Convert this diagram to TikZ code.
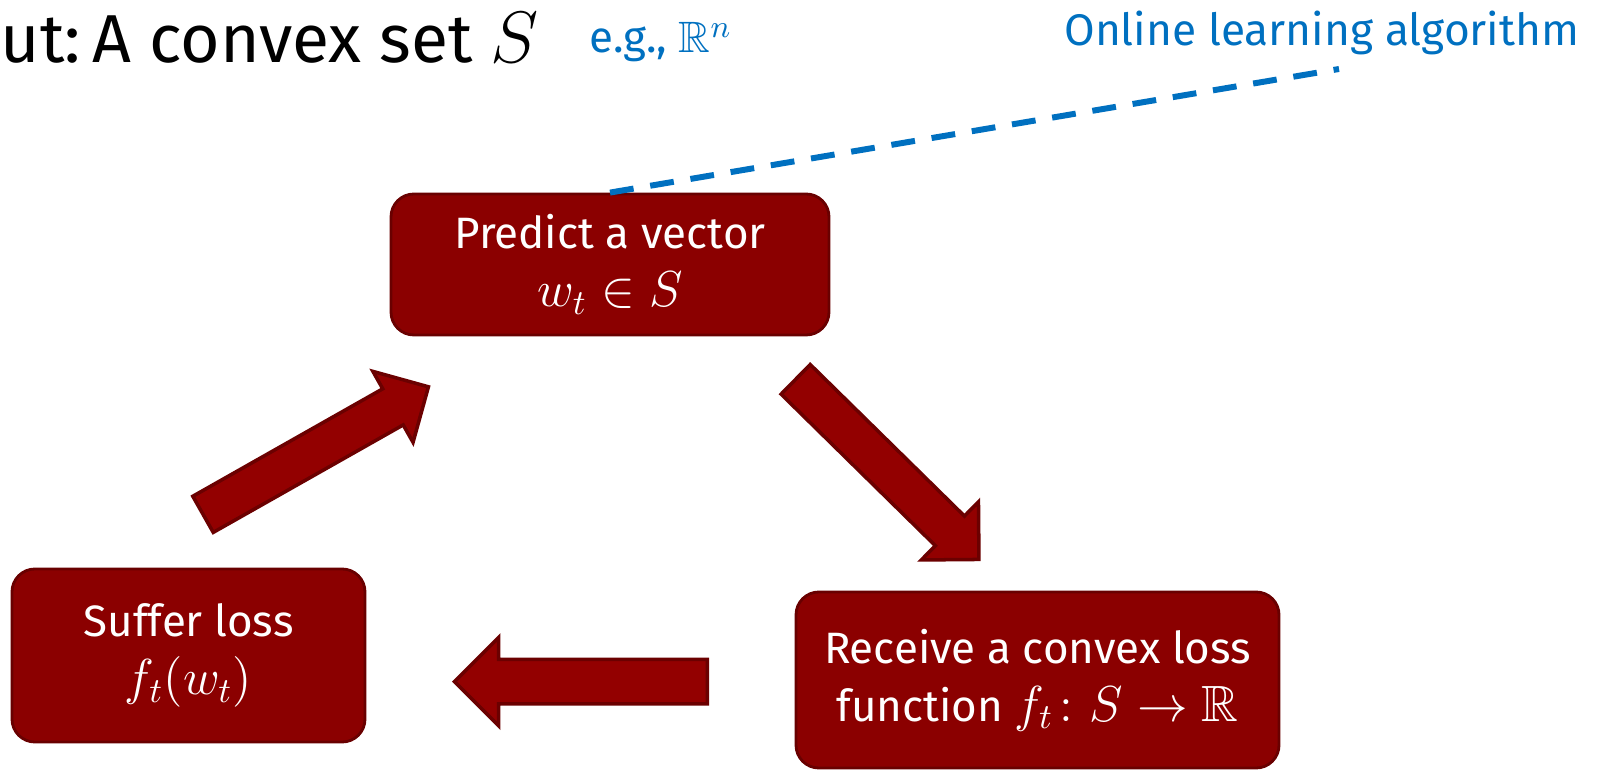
\documentclass[tikz,border=0pt]{standalone}
\usepackage{amsmath,amssymb}
\usepackage{fontspec}
\setmainfont{Fira Sans}
\usetikzlibrary{arrows.meta,positioning,shapes.arrows}
\newcommand{\boxmath}[1]{{\fontsize{14.5}{15}\selectfont$#1$}}

\begin{document}
\begin{tikzpicture}[x=1cm,y=1cm,
  stepbox/.style={draw=boxedge,line width=.8pt,fill=boxred,rounded corners=6.5pt,align=center,text=white,inner sep=0pt,font=\fontsize{12.5}{14.5}\selectfont},
  bigarrow/.style={single arrow,draw=arrowedge,line width=1pt,fill=arrowred,inner xsep=0pt,inner ysep=.19cm,single arrow head extend=.2cm,anchor=tail},
  bluenote/.style={text=olblue,inner sep=0pt}]
\definecolor{boxred}{RGB}{139,0,0}
\definecolor{boxedge}{RGB}{105,0,0}
\definecolor{arrowred}{RGB}{147,0,0}
\definecolor{arrowedge}{RGB}{107,0,0}
\definecolor{olblue}{RGB}{0,112,192}
\useasboundingbox (0,0) rectangle (16,7.71);
\node[anchor=base west,inner sep=0pt,font=\fontsize{19.3}{23}\selectfont] (title) at (0,7.08) {ut:\,A convex set $S$};
\node[bluenote,anchor=base west,font=\fontsize{12.5}{15}\selectfont] (eg) at (5.89,7.18) {e.g., $\mathbb{R}^n$};
\node[bluenote,anchor=base east,font=\fontsize{12.6}{15}\selectfont] (ola) at (15.80,7.25) {Online learning algorithm};
\node[stepbox,minimum width=4.38cm,minimum height=1.41cm] (predict) at (6.10,5.065) {Predict a vector\\[2pt]\boxmath{w_t\in S}};
\node[stepbox,minimum width=4.83cm,minimum height=1.76cm] (receive) at (10.375,0.91) {Receive a convex loss\\[2pt]function \boxmath{f_t\colon S\to\mathbb{R}}};
\node[stepbox,minimum width=3.53cm,minimum height=1.73cm] (suffer) at (1.885,1.155) {Suffer loss\\[2pt]\boxmath{f_t(w_t)}};
\coordinate (olaend) at (13.39,7.02);
\draw[olblue,line width=1.7pt,dash pattern=on 6.8pt off 4.8pt] (predict.north) -- (olaend);
% block arrows of the loop
\node[bigarrow,rotate=29.5,minimum height=2.59cm] (up) at (2.015,2.558) {};
\node[bigarrow,rotate=-44.5,minimum height=2.57cm] (down) at (7.944,3.929) {};
\node[bigarrow,rotate=180,minimum height=2.53cm,inner ysep=.205cm,single arrow head extend=.22cm] (back) at (7.092,0.894) {};
\end{tikzpicture}
\end{document}
